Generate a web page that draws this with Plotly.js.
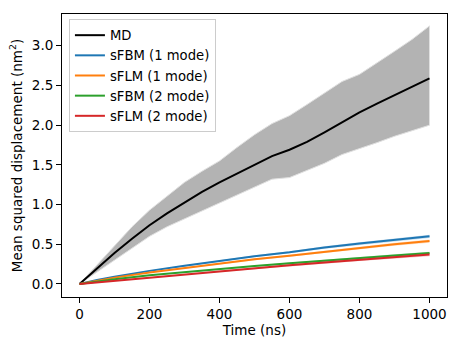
<!DOCTYPE html>
<html>
<head>
<meta charset="utf-8">
<script src="https://cdn.plot.ly/plotly-3.0.1.min.js"></script>
<style>
  html, body { margin: 0; padding: 0; background: #fff; }
  #plot { width: 461px; height: 346px; }
</style>
</head>
<body>
<div id="plot"></div>
<script>
// MD mean and its spread
var tMD = [0, 25, 50, 100, 150, 200, 250, 300, 350, 400, 450, 500, 550, 600, 650, 700, 750, 800, 850, 900, 950, 1000];
var mdMean = [0, 0.10, 0.20, 0.39, 0.57, 0.74, 0.89, 1.03, 1.16, 1.28, 1.39, 1.50, 1.61, 1.69, 1.79, 1.91, 2.04, 2.16, 2.27, 2.38, 2.49, 2.59];
var mdUpper = [0, 0.12, 0.25, 0.49, 0.72, 0.93, 1.11, 1.28, 1.42, 1.55, 1.72, 1.88, 2.02, 2.12, 2.26, 2.40, 2.55, 2.64, 2.78, 2.93, 3.08, 3.25];
var mdLower = [0, 0.08, 0.16, 0.30, 0.45, 0.60, 0.72, 0.83, 0.92, 1.02, 1.13, 1.22, 1.32, 1.34, 1.43, 1.52, 1.63, 1.70, 1.78, 1.86, 1.93, 2.00];

// model curves
var tFit = [0, 50, 100, 200, 300, 400, 500, 600, 700, 800, 900, 1000];
var sfbm1 = [0, 0.05, 0.09, 0.165, 0.23, 0.29, 0.35, 0.40, 0.46, 0.51, 0.555, 0.60];
var sflm1 = [0, 0.04, 0.08, 0.145, 0.20, 0.255, 0.31, 0.355, 0.405, 0.455, 0.50, 0.54];
var sfbm2 = [0, 0.03, 0.06, 0.11, 0.15, 0.19, 0.225, 0.26, 0.295, 0.33, 0.36, 0.39];
var sflm2 = [0, 0.02, 0.04, 0.08, 0.12, 0.16, 0.195, 0.235, 0.27, 0.305, 0.34, 0.37];
// half width of the shaded band round each model curve
var sfbm1Sd = [0, 0.002, 0.003, 0.005, 0.007, 0.009, 0.011, 0.013, 0.015, 0.017, 0.019, 0.021];
var sflm1Sd = [0, 0.002, 0.003, 0.005, 0.007, 0.009, 0.011, 0.013, 0.015, 0.017, 0.019, 0.021];
var sfbm2Sd = [0, 0.001, 0.002, 0.004, 0.005, 0.007, 0.008, 0.010, 0.011, 0.013, 0.014, 0.016];
var sflm2Sd = [0, 0.002, 0.003, 0.005, 0.007, 0.009, 0.011, 0.013, 0.015, 0.017, 0.019, 0.021];

var names = ['sFBM (1 mode)', 'sFLM (1 mode)', 'sFBM (2 mode)', 'sFLM (2 mode)'];
var colors = ['#1f77b4', '#ff7f0e', '#2ca02c', '#d62728'];
var bands = ['rgba(31,119,180,0.25)', 'rgba(255,127,14,0.25)', 'rgba(44,160,44,0.25)', 'rgba(214,39,40,0.25)'];

function band(x, lo, hi, fill, edge) {
  return {
    x: x.concat(x.slice().reverse()),
    y: hi.concat(lo.slice().reverse()),
    type: 'scatter', mode: 'lines', fill: 'toself',
    fillcolor: fill,
    line: {color: edge, width: edge ? 1 : 0},
    showlegend: false, hoverinfo: 'skip'
  };
}

var data = [];
data.push(band(tMD, mdLower, mdUpper, 'rgba(128,128,128,0.6)', '#e0e0e0'));

var fits = [sfbm1, sflm1, sfbm2, sflm2];
var sds = [sfbm1Sd, sflm1Sd, sfbm2Sd, sflm2Sd];
for (var i = 0; i < fits.length; i++) {
  var lo = fits[i].map(function(v, k) { return v - sds[i][k]; });
  var hi = fits[i].map(function(v, k) { return v + sds[i][k]; });
  data.push(band(tFit, lo, hi, bands[i], null));
}

data.push({x: tMD, y: mdMean, type: 'scatter', mode: 'lines', name: 'MD',
           line: {color: 'black', width: 2}});
for (var j = 0; j < fits.length; j++) {
  data.push({x: tFit, y: fits[j], type: 'scatter', mode: 'lines', name: names[j],
             line: {color: colors[j], width: 2}});
}

var axisStyle = {
  showline: true, mirror: true, linecolor: 'black', linewidth: 1,
  ticks: 'outside', ticklen: 5, tickwidth: 1, tickcolor: 'black',
  showgrid: false, zeroline: false
};

var layout = {
  width: 461, height: 346,
  margin: {l: 62, r: 14, t: 14, b: 49},
  paper_bgcolor: 'white', plot_bgcolor: 'white',
  font: {family: 'DejaVu Sans', size: 13.5, color: 'black'},
  xaxis: Object.assign({}, axisStyle, {
    range: [-50, 1050], tickvals: [0, 200, 400, 600, 800, 1000],
    title: {text: 'Time (ns)', font: {size: 13.5}, standoff: 3}
  }),
  yaxis: Object.assign({}, axisStyle, {
    range: [-0.164, 3.40], tickvals: [0, 0.5, 1, 1.5, 2, 2.5, 3], tickformat: '.1f',
    title: {text: 'Mean squared displacement (nm<sup>2</sup>)', font: {size: 13.5}, standoff: 6}
  }),
  legend: {
    x: 0.018, y: 0.982, xanchor: 'left', yanchor: 'top',
    bgcolor: 'white', bordercolor: '#cccccc', borderwidth: 1,
    font: {size: 13.2}, itemwidth: 30, tracegroupgap: 0
  },
  showlegend: true
};

Plotly.newPlot('plot', data, layout, {displayModeBar: false, staticPlot: true});
</script>
</body>
</html>
